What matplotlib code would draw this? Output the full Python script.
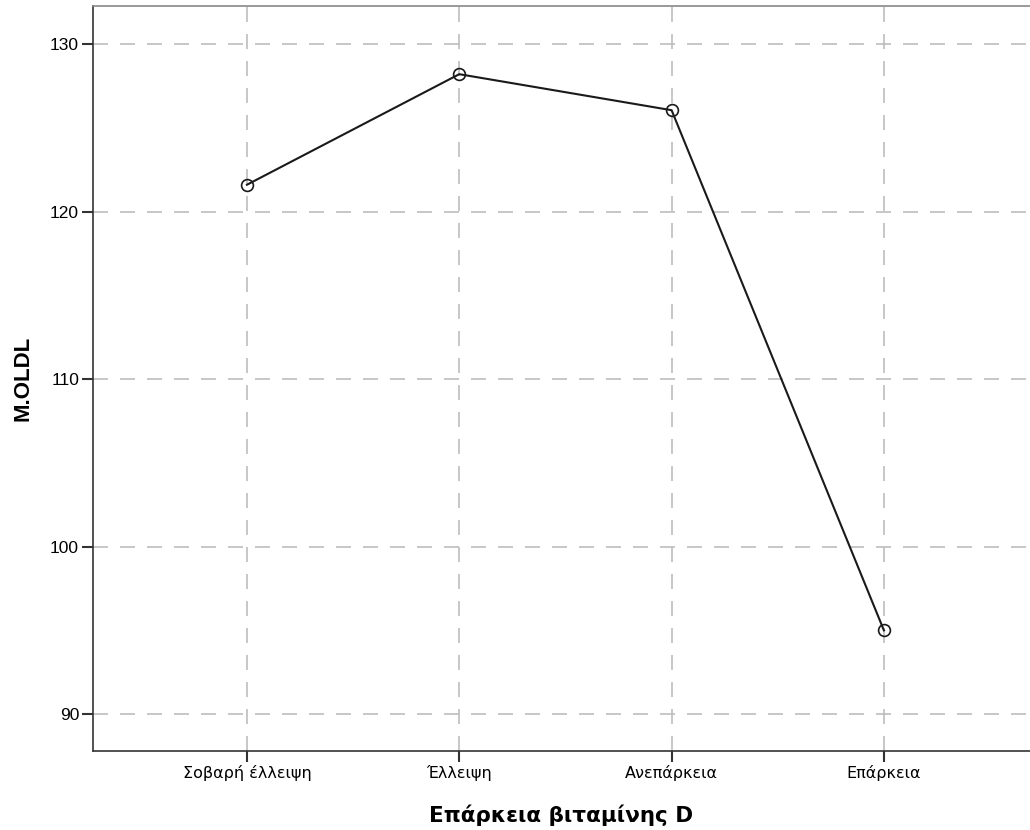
import matplotlib
matplotlib.use('Agg')
import matplotlib.pyplot as plt

plt.rcParams['font.family'] = ['Liberation Sans', 'DejaVu Sans']

# mean OLDL per vitamin D group
categories = ['Σοβαρή έλλειψη', 'Έλλειψη', 'Ανεπάρκεια', 'Επάρκεια']
means = [121.6, 128.2, 126.05, 95.0]
y_ticks = [90, 100, 110, 120, 130]

fig = plt.figure(figsize=(10.3, 8.3), dpi=100)
ax = fig.add_axes([93/1030, 79/830, 937/1030, 745/830])

x = list(range(len(categories)))
ax.plot(x, means, color='#1a1a1a', linewidth=1.5, marker='o', markersize=8.5,
        markerfacecolor='none', markeredgecolor='#1a1a1a', markeredgewidth=1.2, zorder=3)

ax.set_xlim(-0.725, 3.688)
ax.set_ylim(87.8, 132.27)
ax.set_xticks(x)
ax.set_xticklabels(categories, fontsize=11.5, family=['DejaVu Sans'])
ax.set_yticks(y_ticks)
ax.tick_params(axis='y', labelsize=12.5, length=8, width=1.5, color='#333333', pad=2)
ax.tick_params(axis='x', length=8, width=1.5, color='#333333', pad=2)

ax.grid(True, color='#bdbdbd', linewidth=1.2, linestyle=(0, (9, 7.2)))
ax.set_axisbelow(True)

ax.spines['right'].set_visible(False)
ax.spines['left'].set_color('#333333')
ax.spines['bottom'].set_color('#333333')
ax.spines['top'].set_color('#888888')
for s in ['left', 'bottom', 'top']:
    ax.spines[s].set_linewidth(1.2)

ax.set_xlabel('Επάρκεια βιταμίνης D', fontsize=15.5, fontweight='bold',
              family=['DejaVu Sans'], labelpad=17)
ax.set_ylabel('M.OLDL', fontsize=16, fontweight='bold', labelpad=12)

fig.savefig('out.png', dpi=100)
